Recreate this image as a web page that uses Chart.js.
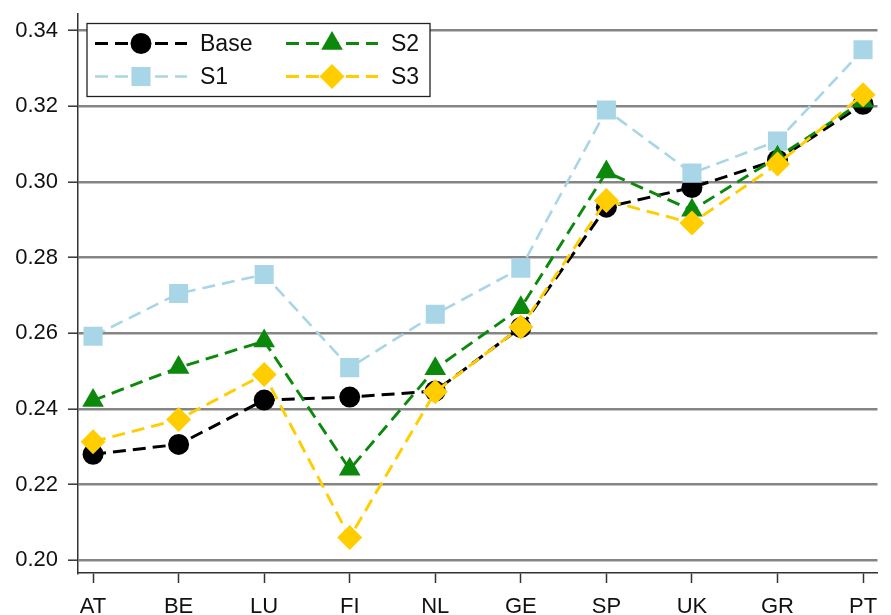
<!DOCTYPE html>
<html><head><meta charset="utf-8">
<script src="https://cdn.jsdelivr.net/npm/chart.js@4/dist/chart.umd.min.js"></script>
<style>html,body{margin:0;padding:0;background:#fff}canvas{display:block}</style>
</head><body>
<canvas id="c" width="891" height="615"></canvas>
<script>
const categories = ['AT','BE','LU','FI','NL','GE','SP','UK','GR','PT'];
const seriesNames = ['Base','S1','S2','S3'];
const baseValues = [0.2280, 0.2306, 0.2423, 0.2431, 0.2447, 0.2615, 0.2933, 0.2985, 0.3058, 0.3205];
const s1Values   = [0.2592, 0.2705, 0.2755, 0.2509, 0.2650, 0.2772, 0.3190, 0.3023, 0.3108, 0.3349];
const s2Values   = [0.2422, 0.2509, 0.2579, 0.2240, 0.2506, 0.2667, 0.3026, 0.2925, 0.3065, 0.3213];
const s3Values   = [0.2313, 0.2372, 0.2491, 0.2060, 0.2445, 0.2616, 0.2951, 0.2891, 0.3047, 0.3230];
const yTickValues = [0.20, 0.22, 0.24, 0.26, 0.28, 0.30, 0.32, 0.34];

const FONT = "'Liberation Sans', Arial, sans-serif";
const styles = [
  {color:'#000000', point:'circle',   radius:10.5, width:3},
  {color:'#a9d6e6', point:'rect',     radius:13.5, width:2.6},
  {color:'#0c880c', point:'triangle', radius:12.5, width:2.9},
  {color:'#ffcd00', point:'rectRot',  radius:12.5, width:2.9}
];
const allValues = [baseValues, s1Values, s2Values, s3Values];

const datasets = allValues.map((vals, k) => ({
  label: seriesNames[k],
  data: vals.map((v, i) => ({x: i, y: v})),
  borderColor: styles[k].color,
  backgroundColor: styles[k].color,
  borderWidth: styles[k].width,
  borderDash: [13, 7],
  pointStyle: styles[k].point,
  pointRadius: styles[k].radius,
  pointHoverRadius: styles[k].radius,
  pointBorderWidth: 0,
  pointBackgroundColor: styles[k].color,
  tension: 0,
  fill: false,
  order: 4 - k
}));

function drawMarker(ctx, style, x, y, r, color) {
  ctx.fillStyle = color;
  ctx.beginPath();
  if (style === 'circle') {
    ctx.arc(x, y, r, 0, Math.PI * 2);
  } else if (style === 'rect') {
    const s = Math.SQRT1_2 * r;
    ctx.rect(x - s, y - s, 2 * s, 2 * s);
  } else if (style === 'triangle') {
    let a = 0;
    ctx.moveTo(x + Math.sin(a) * r, y - Math.cos(a) * r);
    a += 2 * Math.PI / 3;
    ctx.lineTo(x + Math.sin(a) * r, y - Math.cos(a) * r);
    a += 2 * Math.PI / 3;
    ctx.lineTo(x + Math.sin(a) * r, y - Math.cos(a) * r);
  } else if (style === 'rectRot') {
    ctx.moveTo(x - r, y); ctx.lineTo(x, y - r); ctx.lineTo(x + r, y); ctx.lineTo(x, y + r);
  }
  ctx.closePath();
  ctx.fill();
}

const boxLegend = {
  id: 'boxLegend',
  afterDraw(chart) {
    const ctx = chart.ctx;
    const ca = chart.chartArea;
    const L = ca.left + 9, T = ca.top + 10, W = 343, H = 73;
    ctx.save();
    ctx.fillStyle = '#ffffff';
    ctx.fillRect(L, T, W, H);
    ctx.strokeStyle = '#222222';
    ctx.lineWidth = 1.3;
    ctx.strokeRect(L, T, W, H);
    const slots = [[0,0],[0,1],[1,0],[1,1]]; // [col,row] for Base,S1,S2,S3
    chart.data.datasets.forEach((ds, k) => {
      const [col, row] = slots[k];
      const x0 = L + 8 + col * 191, x1 = x0 + 92, y = T + 20 + row * 33;
      ctx.strokeStyle = ds.borderColor;
      ctx.lineWidth = ds.borderWidth;
      ctx.setLineDash(ds.borderDash);
      ctx.beginPath(); ctx.moveTo(x0, y); ctx.lineTo(x1, y); ctx.stroke();
      ctx.setLineDash([]);
      drawMarker(ctx, ds.pointStyle, (x0 + x1) / 2, y, ds.pointRadius, ds.pointBackgroundColor);
      ctx.fillStyle = '#111111';
      ctx.font = '23px ' + FONT;
      ctx.textAlign = 'left';
      ctx.textBaseline = 'middle';
      ctx.fillText(ds.label, x1 + 13, y + 1);
    });
    ctx.restore();
  }
};

new Chart(document.getElementById('c'), {
  type: 'line',
  data: { datasets },
  plugins: [boxLegend],
  options: {
    responsive: false,
    animation: false,
    layout: { padding: { top: 13, right: 0, left: 0, bottom: 0 } },
    plugins: { legend: { display: false }, tooltip: { enabled: false } },
    scales: {
      x: {
        type: 'linear',
        min: -0.176, max: 9.169,
        afterBuildTicks: s => { s.ticks = categories.map((c, i) => ({ value: i })); },
        afterFit: s => { s.height = 42; s.paddingLeft = 0; s.paddingRight = 0; },
        ticks: {
          autoSkip: false, maxRotation: 0, padding: 11,
          color: '#111111', font: { family: FONT, size: 22 },
          callback: v => categories[v]
        },
        grid: { drawOnChartArea: false, tickLength: 10, tickColor: '#333333', tickWidth: 1.5 },
        border: { color: '#333333', width: 1.5 }
      },
      y: {
        min: 0.1966, max: 0.3445,
        afterBuildTicks: s => { s.ticks = yTickValues.map(v => ({ value: v })); },
        afterFit: s => { s.width = 78; s.paddingTop = 0; s.paddingBottom = 0; },
        ticks: {
          padding: 10, color: '#111111', font: { family: FONT, size: 22 },
          callback: v => Number(v).toFixed(2)
        },
        grid: { color: '#858585', lineWidth: 2.4, tickLength: 10, tickColor: '#333333', tickWidth: 1.5 },
        border: { color: '#333333', width: 1.5 }
      }
    }
  }
});
</script>
</body></html>
